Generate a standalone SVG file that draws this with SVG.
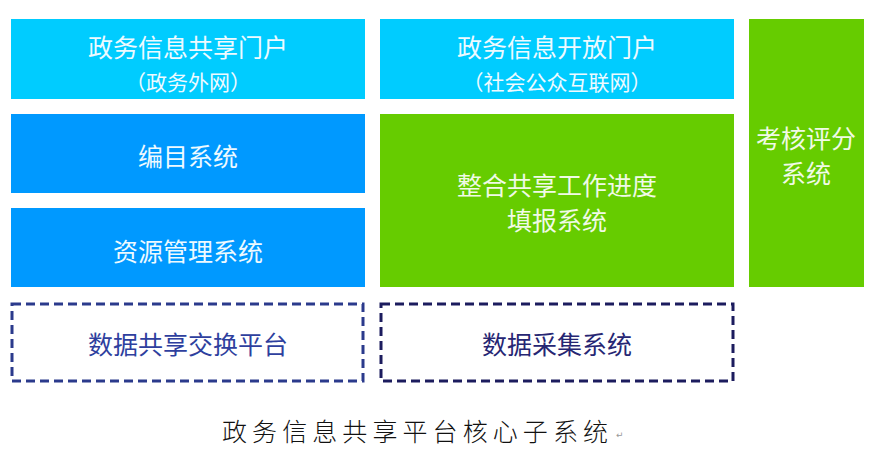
<svg xmlns="http://www.w3.org/2000/svg" width="878" height="450" viewBox="0 0 878 450">
<style>
.sky{fill:#00CCFF}
.blue{fill:#0099FF}
.green{fill:#66CC00}
.t{font-family:"Noto Sans CJK SC","Noto Sans",sans-serif;text-anchor:middle;dominant-baseline:central;fill:#EEFAFF}
.tg{fill:#F0FAE6}
.big{font-size:25px}
.sub{font-size:21px}
.dash{fill:none;stroke-width:3;stroke-dasharray:9 5}
.cap{font-family:"Noto Sans CJK SC","Liberation Serif",serif;font-size:25px;font-weight:300;fill:#111}
</style>
<rect width="878" height="450" fill="#FFFFFF"/>
<g id="portal-gov">
<rect class="sky" x="11" y="19" width="354" height="80"/>
<text class="t big" x="188" y="46">政务信息共享门户</text>
<text class="t sub" x="188" y="81">（政务外网）</text>
</g>
<g id="portal-open">
<rect class="sky" x="380" y="19" width="354" height="80"/>
<text class="t big" x="557" y="46">政务信息开放门户</text>
<text class="t sub" x="557" y="81">（社会公众互联网）</text>
</g>
<g id="catalog">
<rect class="blue" x="11" y="114" width="354" height="79"/>
<text class="t big" x="188" y="155">编目系统</text>
</g>
<g id="resource">
<rect class="blue" x="11" y="208" width="354" height="79"/>
<text class="t big" x="188" y="250">资源管理系统</text>
</g>
<g id="progress">
<rect class="green" x="380" y="114" width="354" height="173"/>
<text class="t tg big" x="557" y="184">整合共享工作进度</text>
<text class="t tg big" x="557" y="219">填报系统</text>
</g>
<g id="scoring">
<rect class="green" x="749" y="19" width="115" height="268"/>
<text class="t tg big" x="806" y="137">考核评分</text>
<text class="t tg big" x="806" y="172">系统</text>
</g>
<g id="exchange">
<rect class="dash" x="12" y="304" width="351" height="77" stroke="#2B3A8C"/>
<text class="t big" x="188" y="343" style="fill:#2E3F9E">数据共享交换平台</text>
</g>
<g id="collect">
<rect class="dash" x="381" y="304" width="352" height="77" stroke="#1C1C5E"/>
<text class="t big" x="557" y="343" style="fill:#262673">数据采集系统</text>
</g>
<g id="connectors"></g>
<g id="caption">
<text class="cap" x="222" y="441" textLength="386" lengthAdjust="spacing">政务信息共享平台核心子系统</text>
<text x="616" y="438" style="font-family:'DejaVu Sans',sans-serif;font-size:9px;fill:#999">↵</text>
</g>
</svg>
